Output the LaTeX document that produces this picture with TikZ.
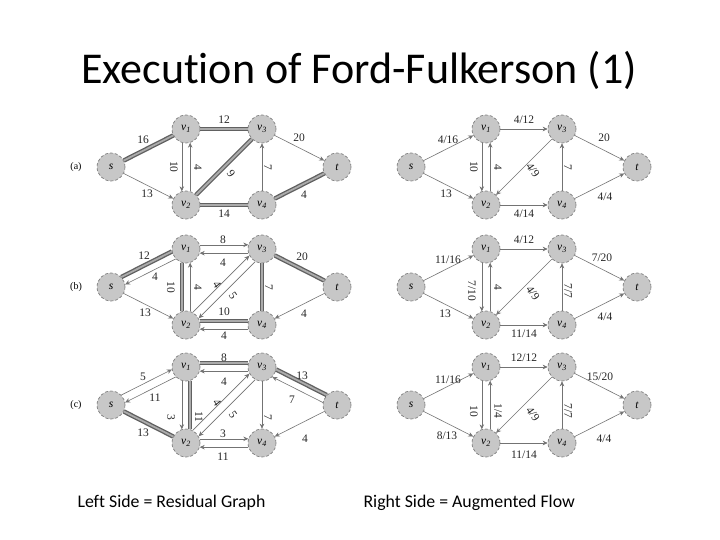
\documentclass[tikz,border=0pt]{standalone}
\usepackage{fontspec}
\setmainfont{Carlito}[Ligatures=NoCommon]
\newfontfamily\scanfont{Liberation Serif}
\usetikzlibrary{arrows.meta}

\begin{document}
\begin{tikzpicture}[
    x=1pt, y=-1pt,
    vert/.style={circle, minimum size=28pt, inner sep=0pt, fill=black!22,
        draw=black!55, densely dashed, line width=0.6pt,
        font=\scanfont\itshape\fontsize{11.5}{12}\selectfont},
    arr/.style={-{Stealth[length=5pt,width=4.5pt]}, draw=black!55, line width=0.6pt},
    augm/.style={draw=black!62, line width=4.5pt,
        postaction={draw=black!33, line width=1.8pt}},
    wt/.style={font=\scanfont\fontsize{11.5}{12}\selectfont, inner sep=1pt, text=black!85},
    tag/.style={font=\scanfont\fontsize{10}{12}\selectfont, inner sep=1pt},
    caption/.style={anchor=west, font=\fontsize{17.8}{20}\selectfont}
]
\fill[white] (0,0) rectangle (720,540);
\useasboundingbox (0,0) rectangle (720,540);

\node[font=\fontsize{44}{48}\selectfont] (title) at (359,70) {Execution of Ford-Fulkerson (1)};

\node[tag] (tag-a) at (76,167) {(a)};
\node[tag] (tag-b) at (76,287) {(b)};
\node[tag] (tag-c) at (76,405) {(c)};

%------------------------------------------------
% (a) residual graph
%------------------------------------------------
\begin{scope}[shift={(111,167)}, name prefix=ra-]
\node[vert] (s)  at (0,0)     {s};
\node[vert] (v1) at (75,-38)  {v\textsubscript{1}};
\node[vert] (v3) at (151,-38) {v\textsubscript{3}};
\node[vert] (t)  at (226,0)   {t};
\node[vert] (v2) at (75,38)   {v\textsubscript{2}};
\node[vert] (v4) at (151,38)  {v\textsubscript{4}};

\draw[augm] (s) -- (v1);
\draw[augm] (v1) -- (v3);
\draw[augm] (v3) -- (v2);
\draw[augm] (v2) -- (v4);
\draw[augm] (v4) -- (t);
\draw[arr] (s) -- (v2);
\draw[arr] (v1.253) -- (v2.107);
\draw[arr] (v2.73) -- (v1.287);
\draw[arr] (v3) -- (t);
\draw[arr] (v4) -- (v3);

\node[wt] (w1) at (32,-27) {16};
\node[wt] (w2) at (113,-47) {12};
\node[wt] (w3) at (188,-29) {20};
\node[wt, rotate=-90] (w4) at (63,0) {10};
\node[wt, rotate=-90] (w5) at (87,0) {4};
\node[wt, rotate=-55] (w6) at (120,7) {9};
\node[wt, rotate=-90] (w7) at (157,0) {7};
\node[wt] (w8) at (36,27) {13};
\node[wt] (w9) at (113,47) {14};
\node[wt] (w10) at (193,28) {4};
\end{scope}

%------------------------------------------------
% (a) flow
%------------------------------------------------
\begin{scope}[shift={(411,167)}, name prefix=fa-]
\node[vert] (s)  at (0,0)     {s};
\node[vert] (v1) at (75,-38)  {v\textsubscript{1}};
\node[vert] (v3) at (151,-38) {v\textsubscript{3}};
\node[vert] (t)  at (226,0)   {t};
\node[vert] (v2) at (75,38)   {v\textsubscript{2}};
\node[vert] (v4) at (151,38)  {v\textsubscript{4}};

\draw[arr] (s) -- (v1);
\draw[arr] (s) -- (v2);
\draw[arr] (v1.253) -- (v2.107);
\draw[arr] (v2.73) -- (v1.287);
\draw[arr] (v1) -- (v3);
\draw[arr] (v3) -- (v2);
\draw[arr] (v3) -- (t);
\draw[arr] (v4) -- (v3);
\draw[arr] (v2) -- (v4);
\draw[arr] (v4) -- (t);

\node[wt] (w1) at (37,-27) {4/16};
\node[wt] (w2) at (113,-47) {4/12};
\node[wt] (w3) at (193,-29) {20};
\node[wt, rotate=-90] (w4) at (63,0) {10};
\node[wt, rotate=-90] (w5) at (87,0) {4};
\node[wt, rotate=-55] (w6) at (122,3) {4/9};
\node[wt, rotate=-90] (w7) at (157,0) {7};
\node[wt] (w8) at (35,27) {13};
\node[wt] (w9) at (113,47) {4/14};
\node[wt] (w10) at (194,30) {4/4};
\end{scope}

%------------------------------------------------
% (b) residual graph
%------------------------------------------------
\begin{scope}[shift={(111,287)}, name prefix=rb-]
\node[vert] (s)  at (0,0)     {s};
\node[vert] (v1) at (75,-38)  {v\textsubscript{1}};
\node[vert] (v3) at (151,-38) {v\textsubscript{3}};
\node[vert] (t)  at (226,0)   {t};
\node[vert] (v2) at (75,38)   {v\textsubscript{2}};
\node[vert] (v4) at (151,38)  {v\textsubscript{4}};

\draw[augm] (s.44) -- (v1.190);
\draw[arr] (v1.224) -- (s.10);
\draw[arr] (s) -- (v2);
\draw[augm] (v1.253) -- (v2.107);
\draw[arr] (v2.73) -- (v1.287);
\draw[arr] (v1.17) -- (v3.163);
\draw[arr] (v3.197) -- (v1.343);
\draw[arr] (v2.62) -- (v3.208);
\draw[arr] (v3.242) -- (v2.28);
\draw[augm] (v2.17) -- (v4.163);
\draw[arr] (v4.197) -- (v2.343);
\draw[augm] (v4) -- (v3);
\draw[augm] (v3) -- (t);
\draw[arr] (t) -- (v4);

\node[wt] (w1) at (33,-31) {12};
\node[wt] (w2) at (44,-10) {4};
\node[wt, rotate=-90] (w3) at (60,0) {10};
\node[wt, rotate=-90] (w4) at (87,0) {4};
\node[wt] (w5) at (112,-47) {8};
\node[wt] (w6) at (112,-24) {4};
\node[wt, rotate=-55] (w7) at (106,-2) {4};
\node[wt, rotate=-55] (w8) at (122,9) {5};
\node[wt, rotate=-90] (w9) at (158,0) {7};
\node[wt] (w10) at (191,-30) {20};
\node[wt] (w11) at (34,26) {13};
\node[wt] (w12) at (113,25) {10};
\node[wt] (w13) at (113,49) {4};
\node[wt] (w14) at (193,27) {4};
\end{scope}

%------------------------------------------------
% (b) flow
%------------------------------------------------
\begin{scope}[shift={(411,287)}, name prefix=fb-]
\node[vert] (s)  at (0,0)     {s};
\node[vert] (v1) at (75,-38)  {v\textsubscript{1}};
\node[vert] (v3) at (151,-38) {v\textsubscript{3}};
\node[vert] (t)  at (226,0)   {t};
\node[vert] (v2) at (75,38)   {v\textsubscript{2}};
\node[vert] (v4) at (151,38)  {v\textsubscript{4}};

\draw[arr] (s) -- (v1);
\draw[arr] (s) -- (v2);
\draw[arr] (v1.253) -- (v2.107);
\draw[arr] (v2.73) -- (v1.287);
\draw[arr] (v1) -- (v3);
\draw[arr] (v3) -- (v2);
\draw[arr] (v3) -- (t);
\draw[arr] (v4) -- (v3);
\draw[arr] (v2) -- (v4);
\draw[arr] (v4) -- (t);

\node[wt] (w1) at (37,-27) {11/16};
\node[wt] (w2) at (113,-47) {4/12};
\node[wt] (w3) at (191,-29) {7/20};
\node[wt, rotate=-90] (w4) at (61,4) {7/10};
\node[wt, rotate=-90] (w5) at (87,0) {4};
\node[wt, rotate=-55] (w6) at (122,6) {4/9};
\node[wt, rotate=-90] (w7) at (157,4) {7/7};
\node[wt] (w8) at (34,27) {13};
\node[wt] (w9) at (113,47) {11/14};
\node[wt] (w10) at (194,30) {4/4};
\end{scope}

%------------------------------------------------
% (c) residual graph
%------------------------------------------------
\begin{scope}[shift={(111,405)}, name prefix=rc-]
\node[vert] (s)  at (0,0)     {s};
\node[vert] (v1) at (75,-38)  {v\textsubscript{1}};
\node[vert] (v3) at (151,-38) {v\textsubscript{3}};
\node[vert] (t)  at (226,0)   {t};
\node[vert] (v2) at (75,38)   {v\textsubscript{2}};
\node[vert] (v4) at (151,38)  {v\textsubscript{4}};

\draw[arr] (s.44) -- (v1.190);
\draw[arr] (v1.224) -- (s.10);
\draw[augm] (s) -- (v2);
\draw[arr] (v1.253) -- (v2.107);
\draw[augm] (v2.73) -- (v1.287);
\draw[augm] (v1.17) -- (v3.163);
\draw[arr] (v3.197) -- (v1.343);
\draw[arr] (v2.62) -- (v3.208);
\draw[arr] (v3.242) -- (v2.28);
\draw[arr] (v3) -- (v4);
\draw[augm] (v3.-10) -- (t.136);
\draw[arr] (t.170) -- (v3.-44);
\draw[arr] (t) -- (v4);
\draw[arr] (v2.17) -- (v4.163);
\draw[arr] (v4.197) -- (v2.343);

\node[wt] (w1) at (32,-28) {5};
\node[wt] (w2) at (44,-7) {11};
\node[wt] (w3) at (113,-47) {8};
\node[wt] (w4) at (113,-23) {4};
\node[wt, rotate=-90] (w5) at (60,12) {3};
\node[wt, rotate=-90] (w6) at (88,12) {11};
\node[wt, rotate=-55] (w7) at (106,-2) {4};
\node[wt, rotate=-55] (w8) at (122,10) {5};
\node[wt, rotate=-90] (w9) at (157,12) {7};
\node[wt] (w10) at (191,-29) {13};
\node[wt] (w11) at (181,-5) {7};
\node[wt] (w12) at (32,28) {13};
\node[wt] (w13) at (112,29) {3};
\node[wt] (w14) at (112,52) {11};
\node[wt] (w15) at (194,34) {4};
\end{scope}

%------------------------------------------------
% (c) flow
%------------------------------------------------
\begin{scope}[shift={(411,405)}, name prefix=fc-]
\node[vert] (s)  at (0,0)     {s};
\node[vert] (v1) at (75,-38)  {v\textsubscript{1}};
\node[vert] (v3) at (151,-38) {v\textsubscript{3}};
\node[vert] (t)  at (226,0)   {t};
\node[vert] (v2) at (75,38)   {v\textsubscript{2}};
\node[vert] (v4) at (151,38)  {v\textsubscript{4}};

\draw[arr] (s) -- (v1);
\draw[arr] (s) -- (v2);
\draw[arr] (v1.253) -- (v2.107);
\draw[arr] (v2.73) -- (v1.287);
\draw[arr] (v1) -- (v3);
\draw[arr] (v3) -- (v2);
\draw[arr] (v3) -- (t);
\draw[arr] (v4) -- (v3);
\draw[arr] (v2) -- (v4);
\draw[arr] (v4) -- (t);

\node[wt] (w1) at (37,-25) {11/16};
\node[wt] (w2) at (113,-47) {12/12};
\node[wt] (w3) at (189,-28) {15/20};
\node[wt, rotate=-90] (w4) at (63,6) {10};
\node[wt, rotate=-90] (w5) at (87,6) {1/4};
\node[wt, rotate=-55] (w6) at (122,9) {4/9};
\node[wt, rotate=-90] (w7) at (157,6) {7/7};
\node[wt] (w8) at (36,31) {8/13};
\node[wt] (w9) at (113,50) {11/14};
\node[wt] (w10) at (193,34) {4/4};
\end{scope}

% captions
\node[caption] (left)  at (74,503) {Left Side = Residual Graph};
\node[caption] (right) at (360,503) {Right Side = Augmented Flow};

\end{tikzpicture}
\end{document}
